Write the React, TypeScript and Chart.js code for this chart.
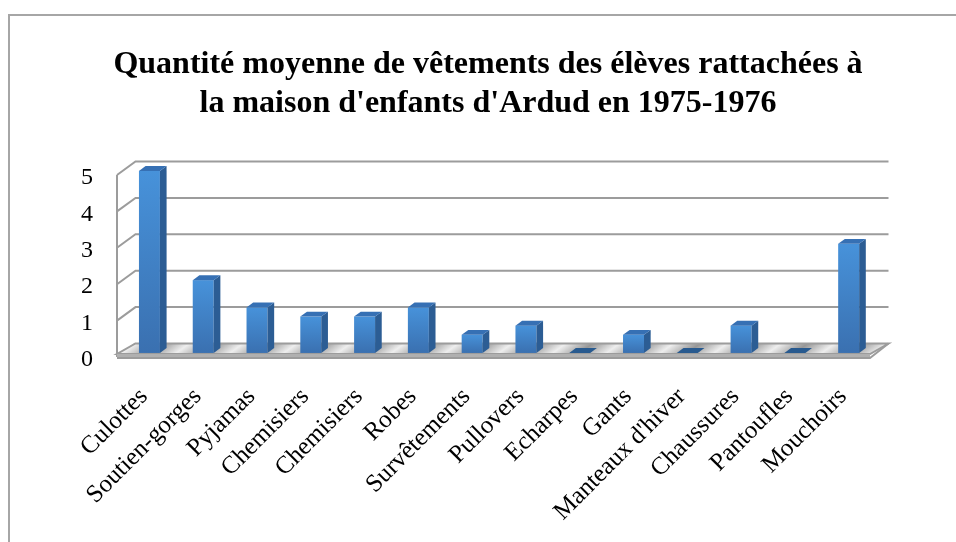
import React, { useEffect, useRef } from "react";
import { Chart, registerables } from "chart.js";

Chart.register(...registerables);

const categories = [
  "Culottes",
  "Soutien-gorges",
  "Pyjamas",
  "Chemisiers",
  "Chemisiers",
  "Robes",
  "Survêtements",
  "Pullovers",
  "Echarpes",
  "Gants",
  "Manteaux d'hiver",
  "Chaussures",
  "Pantoufles",
  "Mouchoirs",
];
const values = [5, 2, 1.25, 1, 1, 1.25, 0.5, 0.75, 0, 0.5, 0, 0.75, 0, 3];
const yTicks = [0, 1, 2, 3, 4, 5];
const titleLines = [
  "Quantité moyenne de vêtements des élèves rattachées à",
  "la maison d'enfants d'Ardud en 1975-1976",
];

const DX = 18.5;
const DY = -13.5;
const BAR_FRONT = 0.3;
const BAR_DEPTH = 0.36;
const GRID = "#9c9c9c";

const threeD = {
  id: "threeD",
  beforeDraw(chart: any) {
    const ctx = chart.ctx;
    ctx.save();
    ctx.fillStyle = "#ffffff";
    ctx.fillRect(0, 0, chart.width, chart.height);
    ctx.strokeStyle = "#a6a6a6";
    ctx.lineWidth = 2;
    ctx.strokeRect(9, 15, 1200, 800);
    ctx.fillStyle = "#000";
    ctx.font = "bold 32px 'Liberation Serif'";
    ctx.textAlign = "center";
    ctx.textBaseline = "alphabetic";
    ctx.fillText(titleLines[0], 488, 73);
    ctx.fillText(titleLines[1], 488, 111.5);
    ctx.restore();
  },
  beforeDatasetsDraw(chart: any) {
    const ctx = chart.ctx;
    const { left, right } = chart.chartArea;
    const ys = chart.scales.y;
    ctx.save();
    ctx.strokeStyle = GRID;
    ctx.lineWidth = 2;
    ctx.lineCap = "butt";
    yTicks.forEach((v) => {
      const y = ys.getPixelForValue(v);
      ctx.beginPath();
      ctx.moveTo(left, y);
      ctx.lineTo(left + DX, y + DY);
      if (v !== 0) ctx.lineTo(right + DX, y + DY);
      ctx.stroke();
    });
    const y0 = ys.getPixelForValue(0);
    const y5 = ys.getPixelForValue(yTicks[yTicks.length - 1]);
    ctx.beginPath();
    ctx.moveTo(left, y5);
    ctx.lineTo(left, y0);
    ctx.stroke();
    // floor
    const catW = (right - left) / categories.length;
    const n = Math.hypot(DX, DY);
    const ux = -DY / n;
    const uy = DX / n;
    const W = right - left;
    const projLen = W * ux;
    const g = ctx.createLinearGradient(left, y0, left + projLen * ux, y0 + projLen * uy);
    for (let i = 0; i <= categories.length; i++) {
      const c = (i * catW) / W;
      const m = ((i + 0.5) * catW) / W;
      if (c <= 1) g.addColorStop(Math.min(1, c), "#eeeeee");
      if (m <= 1) g.addColorStop(m, "#979797");
    }
    ctx.fillStyle = g;
    ctx.beginPath();
    ctx.moveTo(left, y0 - 3);
    ctx.lineTo(right, y0 - 3);
    ctx.lineTo(right + DX, y0 + DY);
    ctx.lineTo(left + DX, y0 + DY);
    ctx.closePath();
    ctx.fill();
    ctx.stroke();
    ctx.fillStyle = "#b0b0b0";
    ctx.fillRect(left, y0 - 3, W, 4);
    ctx.beginPath();
    ctx.moveTo(left, y0 + 1);
    ctx.lineTo(right, y0 + 1);
    ctx.lineTo(right + DX, y0 + DY);
    ctx.stroke();
    ctx.restore();
  },
  afterDatasetsDraw(chart: any) {
    const ctx = chart.ctx;
    const meta = chart.getDatasetMeta(0);
    ctx.save();
    meta.data.forEach((bar: any) => {
      const w = bar.width;
      const fx = BAR_FRONT * DX;
      const fy = BAR_FRONT * DY;
      const bx = BAR_DEPTH * DX;
      const by = BAR_DEPTH * DY;
      const x1 = bar.x - w / 2 + fx;
      const x2 = bar.x + w / 2 + fx;
      const yt = bar.y + fy;
      const yb = bar.base + fy;
      const h = yb - yt;
      if (h > 0.5) {
        const gr = ctx.createLinearGradient(0, yt, 0, yb);
        gr.addColorStop(0, "#4792da");
        gr.addColorStop(1, "#3a70b0");
        ctx.fillStyle = gr;
        ctx.fillRect(x1, yt, x2 - x1, h);
        ctx.fillStyle = "#2c5d94";
        ctx.beginPath();
        ctx.moveTo(x2, yt);
        ctx.lineTo(x2 + bx, yt + by);
        ctx.lineTo(x2 + bx, yb + by);
        ctx.lineTo(x2, yb);
        ctx.closePath();
        ctx.fill();
        ctx.fillStyle = "#3670b4";
      } else {
        ctx.fillStyle = "#285a8f";
      }
      ctx.beginPath();
      ctx.moveTo(x1, yt);
      ctx.lineTo(x2, yt);
      ctx.lineTo(x2 + bx, yt + by);
      ctx.lineTo(x1 + bx, yt + by);
      ctx.closePath();
      ctx.fill();
    });
    ctx.restore();
  },
};

export default function App() {
  const ref = useRef<HTMLCanvasElement | null>(null);
  useEffect(() => {
    if (!ref.current) return;
    const chart = new Chart(ref.current, {
      type: "bar",
      data: {
        labels: categories,
        datasets: [
          {
            data: values,
            backgroundColor: "rgba(0,0,0,0)",
            borderWidth: 0,
            categoryPercentage: 1,
            barPercentage: 0.39,
          },
        ],
      },
      options: {
        animation: false,
        responsive: true,
        maintainAspectRatio: false,
        layout: { padding: { left: 0, top: 175, right: 86, bottom: 0 } },
        plugins: {
          legend: { display: false },
          title: { display: false },
          tooltip: { enabled: false },
        },
        scales: {
          x: {
            grid: { display: false, drawTicks: false },
            border: { display: false },
            ticks: {
              maxRotation: 45,
              minRotation: 45,
              autoSkip: false,
              padding: 25,
              color: "#000",
              font: { family: "'Liberation Serif'", size: 25 },
            },
            afterFit: (s: any) => {
              s.height = 185;
            },
          },
          y: {
            min: 0,
            max: 5,
            grid: { display: false, drawTicks: false },
            border: { display: false },
            ticks: {
              stepSize: 1,
              padding: 24,
              labelOffset: 3,
              color: "#000",
              font: { family: "'Liberation Serif'", size: 24 },
            },
            afterFit: (s: any) => {
              s.width = 117;
            },
          },
        },
      },
      plugins: [threeD],
    });
    return () => chart.destroy();
  }, []);
  return (
    <div style={{ position: "fixed", left: 0, top: 0, width: 956, height: 542, background: "#fff" }}>
      <canvas ref={ref} />
    </div>
  );
}
